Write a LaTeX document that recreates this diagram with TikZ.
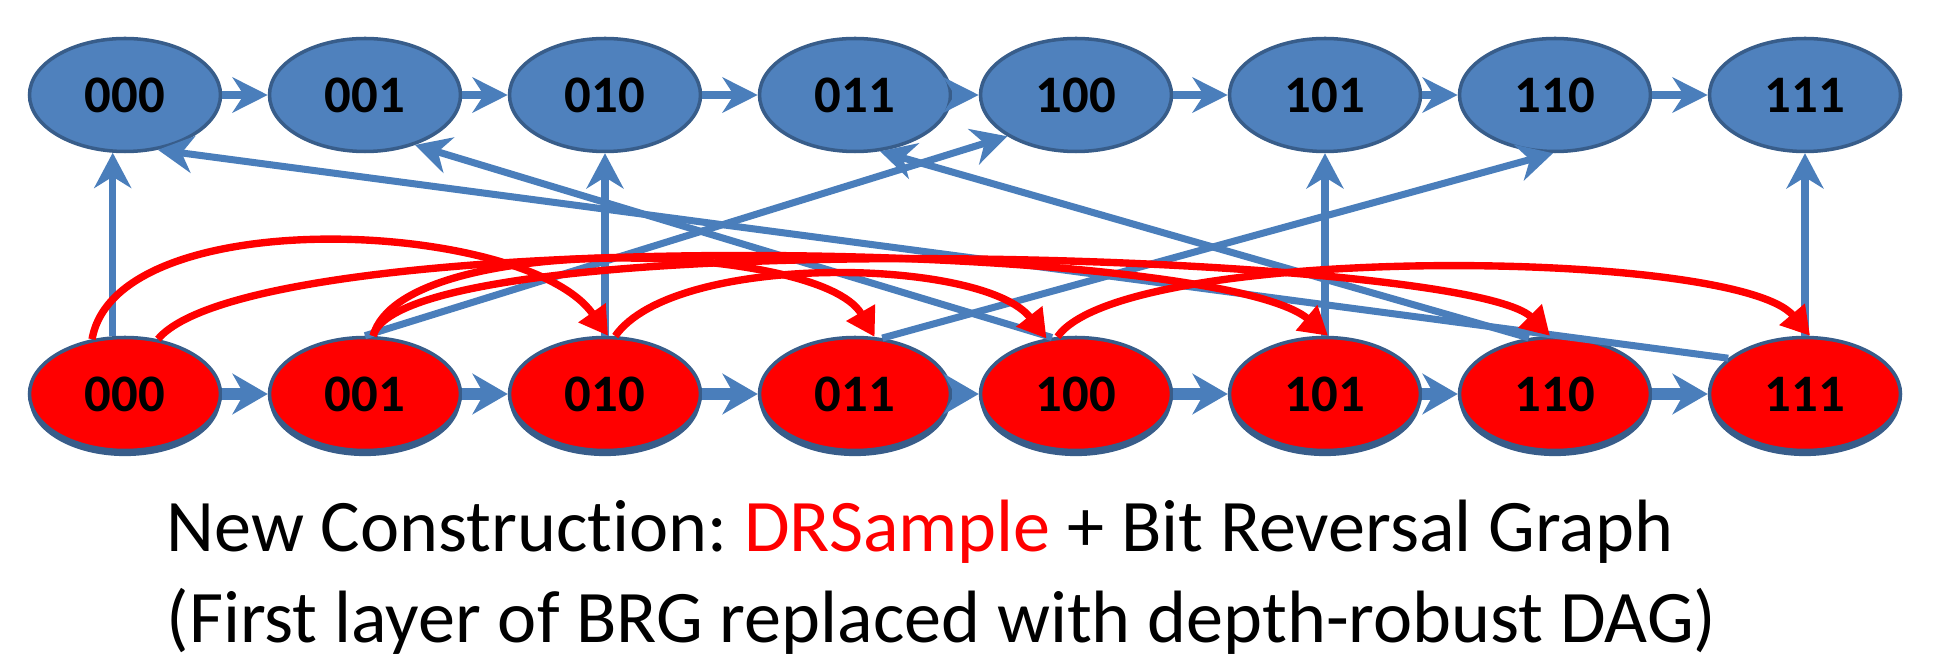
\documentclass[tikz,border=0pt]{standalone}
\usepackage{fontspec}
\setmainfont{Carlito}[Ligatures=NoCommon]
\usetikzlibrary{arrows.meta,shapes.geometric,shadows}
\definecolor{topblue}{RGB}{79,129,189}
\definecolor{nodeborder}{RGB}{56,93,138}
\definecolor{edgeblue}{RGB}{74,126,187}
\definecolor{drred}{RGB}{255,0,0}
\frenchspacing

\begin{document}
\begin{tikzpicture}[x=1cm,y=1cm]
\tikzset{
  brgnode/.style={ellipse,draw=nodeborder,line width=1pt,fill=topblue,minimum width=1.91cm,minimum height=1.13cm,inner sep=0pt,font=\fontsize{15}{17}\selectfont\bfseries},
  drnode/.style={brgnode,fill=drred,drop shadow={shadow xshift=0pt,shadow yshift=-1.6pt,fill=nodeborder,opacity=1}},
  chain/.style={-{Stealth[length=10pt,width=10pt,inset=3.2pt]},line width=2.3pt,edgeblue},
  thickchain/.style={-{Stealth[length=10pt,width=11.5pt,inset=3.2pt]},line width=3.4pt,edgeblue},
  reversal/.style={-{Stealth[length=10pt,width=10.5pt,inset=3.2pt]},line width=2pt,edgeblue},
  drsample/.style={-{Triangle[length=8pt,width=9pt]},line width=2.1pt,drred},
  caption/.style={anchor=base west,inner sep=0pt,font=\fontsize{21.1}{25}\selectfont}
}
\useasboundingbox (0,0) rectangle (19.33,6.58);
% second layer of the bit reversal graph
\node[brgnode] (n_t000) at (1.25,5.63) {000};
\node[brgnode] (n_t001) at (3.65,5.63) {001};
\node[brgnode] (n_t010) at (6.05,5.63) {010};
\node[brgnode] (n_t011) at (8.55,5.63) {011};
\node[brgnode] (n_t100) at (10.76,5.63) {100};
\node[brgnode] (n_t101) at (13.25,5.63) {101};
\node[brgnode] (n_t110) at (15.55,5.63) {110};
\node[brgnode] (n_t111) at (18.05,5.63) {111};
% first layer: DRSample
\node[drnode] (n_b000) at (1.25,2.64) {000};
\node[drnode] (n_b001) at (3.65,2.64) {001};
\node[drnode] (n_b010) at (6.05,2.64) {010};
\node[drnode] (n_b011) at (8.55,2.64) {011};
\node[drnode] (n_b100) at (10.76,2.64) {100};
\node[drnode] (n_b101) at (13.25,2.64) {101};
\node[drnode] (n_b110) at (15.55,2.64) {110};
\node[drnode] (n_b111) at (18.05,2.64) {111};
% caption
\node[caption] (cap1) at (1.66,1.06) {New Construction: \textcolor{drred}{DRSample} + Bit Reversal Graph};
\node[caption] (cap2) at (1.66,0.15) {(First layer of BRG replaced with depth-robust DAG)};
% path edges
\draw[chain] (n_t000) -- (n_t001);
\draw[chain] (n_t001) -- (n_t010);
\draw[chain] (n_t010) -- (n_t011);
\draw[chain] (n_t011) -- (n_t100);
\draw[chain] (n_t100) -- (n_t101);
\draw[chain] (n_t101) -- (n_t110);
\draw[chain] (n_t110) -- (n_t111);
\draw[thickchain] (n_b000) -- (n_b001);
\draw[thickchain] (n_b001) -- (n_b010);
\draw[thickchain] (n_b010) -- (n_b011);
\draw[thickchain] (n_b011) -- (n_b100);
\draw[thickchain] (n_b100) -- (n_b101);
\draw[thickchain] (n_b101) -- (n_b110);
\draw[thickchain] (n_b110) -- (n_b111);
% bit reversal edges
\draw[reversal] (n_b000.102) -- (n_t000.258);
\draw[reversal] (n_b010) -- (n_t010);
\draw[reversal] (n_b101) -- (n_t101);
\draw[reversal] (n_b111) -- (n_t111);
\draw[reversal] (n_b001.north) -- (n_t100.211);
\draw[reversal] (n_b011.64) -- (n_t110.268);
\draw[reversal] (n_b100.113) -- (n_t001.315);
\draw[reversal] (n_b110.115) -- (n_t011.294);
\draw[reversal] (n_b111.155) -- (n_t000.301);
% DRSample edges
\draw[drsample] (n_b000.121) to[out=80,in=125,looseness=0.7] (n_b010.87);
\draw[drsample] (n_b000.59) to[out=50,in=140,looseness=0.33] (n_b101.87);
\draw[drsample] (n_b001.82) to[out=75,in=120,looseness=0.56] (n_b011.71);
\draw[drsample] (n_b001.82) to[out=75,in=135,looseness=0.26] (n_b110.95);
\draw[drsample] (n_b010.80) to[out=55,in=128,looseness=0.61] (n_b100.118);
\draw[drsample] (n_b100.108) to[out=55,in=130,looseness=0.39] (n_b111.85);
\end{tikzpicture}
\end{document}
